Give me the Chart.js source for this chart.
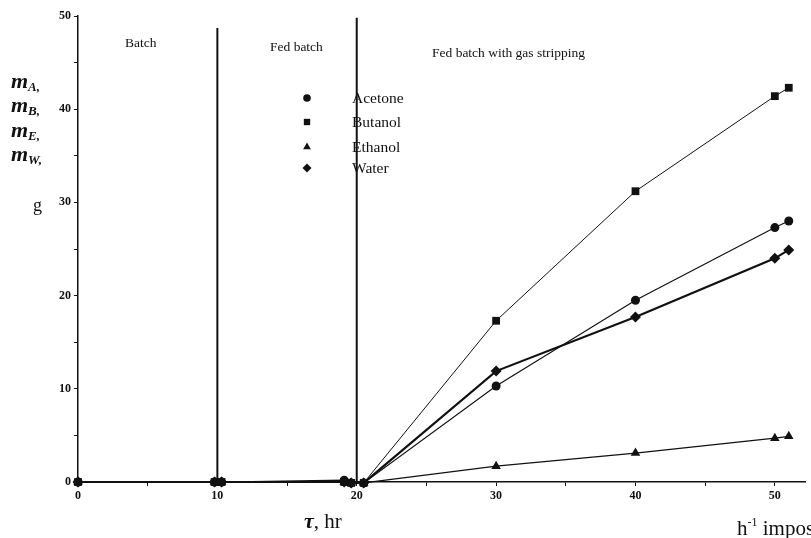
<!DOCTYPE html>
<html><head><meta charset="utf-8">
<script src="https://cdn.jsdelivr.net/npm/chart.js@4/dist/chart.umd.min.js"></script>
<style>html,body{margin:0;padding:0;background:#fff}#wrap{width:811px;height:538px;position:relative}</style>
</head><body><div id="wrap"><canvas id="c"></canvas></div>
<script>
const times   = [0, 9.8, 10.3, 19.1, 19.6, 20.5, 30, 40, 50, 51];
const acetone = [0, 0, 0, 0.2, -0.1, -0.1, 10.3, 19.5, 27.3, 28.0];
const butanol = [0, 0, 0, 0, -0.1, -0.1, 17.3, 31.2, 41.4, 42.3];
const ethanol = [0, 0, 0, 0, -0.1, -0.1, 1.7, 3.1, 4.7, 4.9];
const water   = [0, 0, 0, 0, -0.1, -0.1, 11.9, 17.7, 24.0, 24.9];
const seriesNames = ['Acetone', 'Butanol', 'Ethanol', 'Water'];
const phaseNames = ['Batch', 'Fed batch', 'Fed batch with gas stripping'];
const phaseBounds = [10, 20];
const phaseTops = [48.7, 49.8];
const tickValues = [0, 5, 10, 15, 20, 25, 30, 35, 40, 45, 50];
const labelValues = [0, 10, 20, 30, 40, 50];

const SERIF = '"Liberation Serif", "DejaVu Serif", serif';
const styles = [
  {pointStyle:'circle', radius:4.5, width:1.2, legendRadius:3.8},
  {pointStyle:'rect', radius:5.5, width:1, legendRadius:4.5},
  {pointStyle:'triangle', radius:5.5, width:1.2, legendRadius:4.5},
  {pointStyle:'rectRot', radius:5.5, width:2.2, legendRadius:4.5}
];
const seriesValues = [acetone, butanol, ethanol, water];

const datasets = seriesValues.map((vals, k) => ({
  label: seriesNames[k],
  data: times.map((t, i) => ({x: t, y: vals[i]})),
  borderColor: '#111', backgroundColor: '#111',
  borderWidth: styles[k].width,
  pointStyle: styles[k].pointStyle,
  pointRadius: styles[k].radius,
  pointBorderWidth: 0,
  tension: 0, clip: false
}));
phaseBounds.forEach((b, k) => {
  datasets.push({
    label: 'phase' + k,
    data: [{x: b, y: 0}, {x: b, y: phaseTops[k]}],
    borderColor: '#111', borderWidth: 2, pointRadius: 0, clip: false
  });
});

const textPlugin = {
  id: 'texts',
  afterDraw(chart) {
    const ctx = chart.ctx;
    ctx.save();
    ctx.fillStyle = '#111';
    ctx.textBaseline = 'alphabetic';
    // phase labels
    ctx.font = '13.5px ' + SERIF;
    ctx.fillText(phaseNames[0], 125, 47);
    ctx.fillText(phaseNames[1], 270, 51);
    ctx.fillText(phaseNames[2], 432, 57);
    // legend
    const ly = [98, 122, 147, 168];
    ctx.font = '15.5px ' + SERIF;
    seriesNames.forEach((n, k) => {
      ctx.fillStyle = '#111';
      Chart.helpers.drawPoint(ctx, {pointStyle: styles[k].pointStyle, radius: styles[k].legendRadius, rotation: 0, borderWidth: 0}, 307, ly[k]);
      ctx.textBaseline = 'middle';
      ctx.fillText(n, 352, ly[k] + 1);
    });
    // y title
    ctx.textBaseline = 'alphabetic';
    const subs = ['A,', 'B,', 'E,', 'W,'];
    const yb = [88, 112, 137, 161];
    subs.forEach((s, k) => {
      ctx.font = 'italic bold 22px ' + SERIF;
      ctx.fillText('m', 11, yb[k]);
      const w = ctx.measureText('m').width;
      ctx.font = 'italic bold 13px ' + SERIF;
      ctx.fillText(s, 11 + w, yb[k] + 3);
    });
    ctx.font = '18px ' + SERIF;
    ctx.fillText('g', 33, 211);
    // x title
    ctx.font = 'italic bold 22px ' + SERIF;
    ctx.fillText('\u03C4', 304, 528);
    const tw = ctx.measureText('\u03C4').width;
    ctx.font = '21px ' + SERIF;
    ctx.fillText(', hr', 304 + tw, 528);
    // stray text at bottom right
    ctx.font = '21px ' + SERIF;
    ctx.fillText('h', 737, 535);
    const hw = ctx.measureText('h').width;
    ctx.font = '12px ' + SERIF;
    ctx.fillText('-1', 737 + hw, 526);
    ctx.font = '21px ' + SERIF;
    ctx.fillText(' impose a', 737 + hw + 10, 535);
    ctx.restore();
  }
};

const axisCommon = {
  type: 'linear',
  grid: {drawOnChartArea: false, drawTicks: true, tickLength: 4, color: '#111', lineWidth: 1},
  border: {display: true, color: '#111', width: 1.5},
  ticks: {
    autoSkip: false, maxRotation: 0, color: '#111', padding: 3,
    font: {family: SERIF, size: 12, weight: 'bold'},
    callback: v => (labelValues.includes(v) ? String(v) : '')
  },
  afterBuildTicks: s => { s.ticks = tickValues.map(v => ({value: v})); }
};

new Chart(document.getElementById('c'), {
  type: 'line',
  data: {datasets},
  options: {
    responsive: true, maintainAspectRatio: false, animation: false, devicePixelRatio: 1,
    layout: {padding: {top: 16, right: 0, left: 0, bottom: 0}},
    plugins: {legend: {display: false}, tooltip: {enabled: false}},
    scales: {
      x: Object.assign({}, axisCommon, {min: 0, max: 52.2, afterFit: s => { s.height = 56; }}),
      y: Object.assign({}, axisCommon, {min: 0, max: 50, afterFit: s => { s.width = 78; }})
    }
  },
  plugins: [textPlugin]
});
</script></body></html>
